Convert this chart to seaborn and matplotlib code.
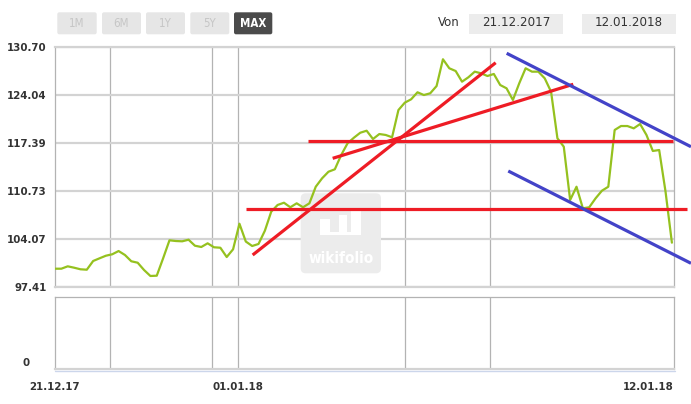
import numpy as np
import pandas as pd
import matplotlib
matplotlib.use("Agg")
import matplotlib.pyplot as plt
import seaborn as sns
from matplotlib.patches import FancyBboxPatch, Rectangle
from matplotlib.lines import Line2D
from matplotlib.transforms import IdentityTransform

# ---------------- data ----------------
values = [99.99, 99.99, 100.32, 100.13, 99.91, 99.85, 101.06, 101.43, 101.79, 101.99,
          102.44, 101.89, 101.02, 100.82, 99.81, 98.98, 99.02, 101.43, 103.93, 103.83,
          103.79, 104.01, 103.18, 103.00, 103.51, 102.96, 102.90, 101.61, 102.68, 106.23,
          103.76, 103.14, 103.42, 105.26, 107.90, 108.83, 109.14, 108.51, 109.06, 108.51,
          109.06, 111.36, 112.53, 113.44, 113.78, 115.76, 117.38, 118.16, 118.85, 119.13,
          117.98, 118.67, 118.54, 118.22, 122.00, 123.02, 123.49, 124.46, 124.08, 124.32,
          125.33, 129.04, 127.79, 127.41, 125.93, 126.54, 127.32, 127.09, 126.72, 127.00,
          125.47, 125.01, 123.39, 125.71, 127.79, 127.32, 127.32, 126.40, 124.54, 118.08,
          116.91, 109.52, 111.36, 108.37, 108.51, 109.75, 110.81, 111.36, 119.23, 119.78,
          119.78, 119.46, 120.06, 118.54, 116.32, 116.45, 110.67, 103.60]
x_idx = np.arange(len(values))

y_ticks = [97.41, 104.07, 110.73, 117.39, 124.04, 130.70]
x_grid = [0, 8.69, 24.73, 28.82, 55.08, 68.44, 97.33]
x_labels = ["21.12.17", "", "", "01.01.18", "", "", "12.01.18"]

red_x = [[30.03, 99.32], [39.83, 97.22], [31.08, 69.29], [43.66, 81.49]]
red_y = [[108.23, 108.23], [117.70, 117.70], [101.89, 128.56], [115.30, 125.57]]
blue_x = [[71.02, 100.0], [71.27, 100.0]]
blue_y = [[129.87, 116.91], [113.54, 100.74]]

buttons = ["1M", "6M", "1Y", "5Y", "MAX"]
date_from = "21.12.2017"
date_to = "12.01.2018"

df = pd.DataFrame({"t": x_idx, "v": values})

# ---------------- style ----------------
sns.set_theme(style="white")
plt.rcParams["font.family"] = ["DejaVu Sans"]

W, H = 691, 404
fig = plt.figure(figsize=(W / 100, H / 100), dpi=100)
fig.patch.set_facecolor("white")

def fbox(l, t, r, b):
    return [l / W, 1 - b / H, (r - l) / W, (b - t) / H]

def disp(x, y):
    return x, H - y

HGRID = "#d3d3d3"
VGRID = "#b3b3b3"
LBL = "#333333"

# ---------------- main axes ----------------
ax = fig.add_axes(fbox(55, 47.3, 674, 287.3))
sns.lineplot(data=df, x="t", y="v", ax=ax, color="#95c11f", linewidth=1.6, zorder=3)
ax.set_xlim(0, 97.33)
ax.set_ylim(97.41, 130.70)
ax.set_xlabel("")
ax.set_ylabel("")
ax.set_yticks(y_ticks)
ax.set_yticklabels([f"{v:.2f}" for v in y_ticks], fontsize=7.4, fontweight="bold", color=LBL)
ax.set_xticks(x_grid[1:-1])
ax.set_xticklabels([])
ax.tick_params(axis="both", length=0)
ax.tick_params(axis="y", pad=6)
ax.set_axisbelow(True)
ax.grid(axis="y", color=HGRID, linewidth=1.6)
ax.grid(axis="x", color=VGRID, linewidth=0.9)
for s in ["left", "right"]:
    ax.spines[s].set_color(VGRID)
    ax.spines[s].set_linewidth(0.9)
for s in ["top", "bottom"]:
    ax.spines[s].set_color(HGRID)
    ax.spines[s].set_linewidth(1.6)

for xs, ys in zip(red_x, red_y):
    ax.plot(xs, ys, color="#ee1c25", linewidth=2.3, solid_capstyle="butt", clip_on=False, zorder=5)
for xs, ys in zip(blue_x, blue_y):
    ax.plot(xs, ys, color="#4343c8", linewidth=2.3, solid_capstyle="butt", clip_on=False, zorder=5)

# watermark
wm = FancyBboxPatch(disp(300.7, 273.3), 80.3, 80, boxstyle="round,pad=0,rounding_size=5",
                    transform=IdentityTransform(), facecolor="#ececec", edgecolor="none", zorder=1)
ax.add_artist(wm)
for (l, t, r, b) in [(319.7, 219.3, 329.7, 235), (338.7, 215, 347, 235),
                     (350.5, 210.7, 361.3, 235), (319.7, 231.7, 361.3, 235)]:
    ax.add_artist(Rectangle(disp(l, b), r - l, b - t, transform=IdentityTransform(),
                            facecolor="white", edgecolor="none", zorder=1.1))
ax.text(*disp(340.7, 258.5), "wikifolio", transform=IdentityTransform(), ha="center", va="center",
        color="white", fontsize=11, fontweight="bold", fontstretch="condensed", zorder=1.2)

# ---------------- navigator axes ----------------
ax2 = fig.add_axes(fbox(55, 296.7, 674, 368.5))
ax2.set_xlim(0, 97.33)
ax2.set_ylim(-0.1, 1)
ax2.set_yticks([0])
ax2.set_yticklabels(["0"], fontsize=7.4, fontweight="bold", color=LBL)
ax2.tick_params(axis="y", length=0, pad=18)
ax2.set_xticks(x_grid)
ax2.set_xticklabels(x_labels, fontsize=7.4, fontweight="bold", color=LBL)
ax2.get_xticklabels()[-1].set_horizontalalignment("right")
ax2.tick_params(axis="x", length=9, color="#ccd6eb", width=0.8, pad=0.5, direction="out")
for gx in x_grid[1:-1]:
    ax2.axvline(gx, color=VGRID, linewidth=0.9, zorder=0)
for s in ax2.spines.values():
    s.set_color(VGRID)
    s.set_linewidth(0.9)
ax2.spines["bottom"].set_linewidth(1.6)
ax2.spines["bottom"].set_color(HGRID)
fig.add_artist(Line2D([55 / W, 675 / W], [1 - 371 / H, 1 - 371 / H], color="#ccd6eb", linewidth=1.0))

# ---------------- top controls ----------------
btn_pos = [(57.3, 96.7), (102, 141), (146, 185), (190.3, 229.3), (234, 272.3)]
for name, (l, r) in zip(buttons, btn_pos):
    active = name == "MAX"
    fig.add_artist(FancyBboxPatch(disp(l, 34.3), r - l, 22, boxstyle="round,pad=0,rounding_size=2",
                                  transform=IdentityTransform(),
                                  facecolor="#4b4b4b" if active else "#e6e6e6", edgecolor="none"))
    fig.text(*disp((l + r) / 2, 23.5), name, transform=IdentityTransform(), ha="center", va="center",
             fontsize=8.3, color="white" if active else "#c6c6c6",
             fontweight="bold" if active else "normal", fontstretch="condensed")

fig.text(*disp(449, 22.5), "Von", transform=IdentityTransform(), ha="center", va="center",
         fontsize=8.5, color=LBL)
for txt, (l, r) in [(date_from, (469.3, 562.7)), (date_to, (582.3, 676))]:
    fig.add_artist(Rectangle(disp(l, 34.3), r - l, 20.3, transform=IdentityTransform(),
                             facecolor="#ececec", edgecolor="none"))
    fig.text(*disp((l + r) / 2, 23), txt, transform=IdentityTransform(), ha="center", va="center",
             fontsize=8.6, color=LBL)

fig.savefig("out.png", dpi=100)
